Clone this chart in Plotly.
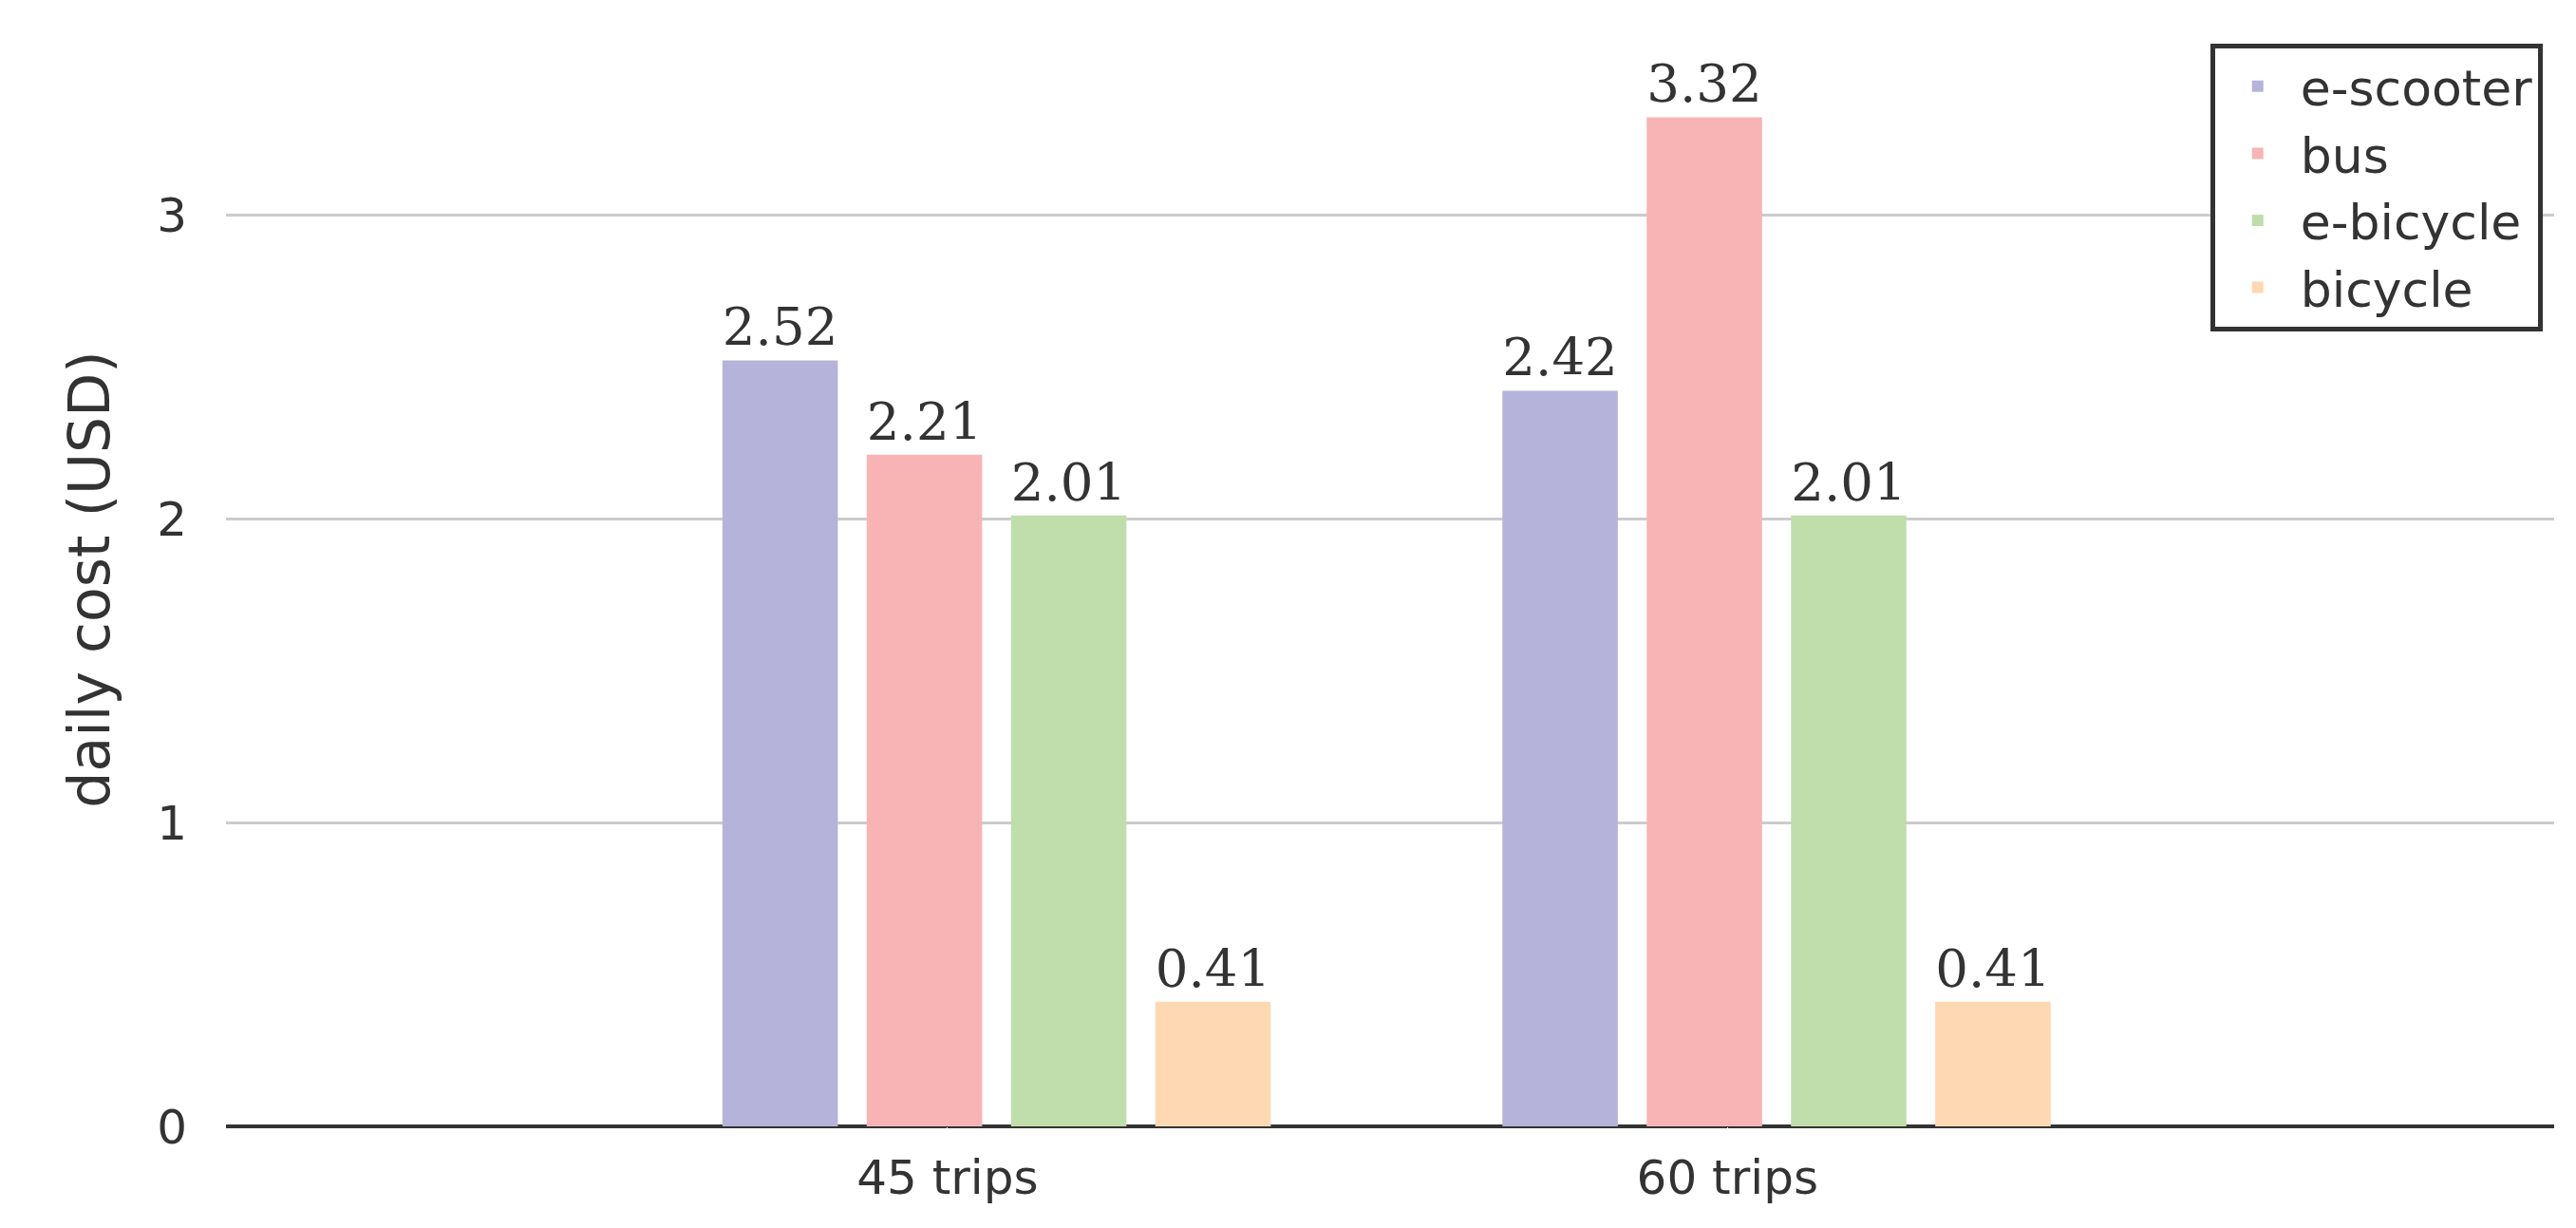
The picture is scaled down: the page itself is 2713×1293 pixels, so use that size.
import plotly.graph_objects as go

categories = ["45 trips", "60 trips"]
series = ["e-scooter", "bus", "e-bicycle", "bicycle"]
values = {
    "e-scooter": [2.52, 2.42],
    "bus": [2.21, 3.32],
    "e-bicycle": [2.01, 2.01],
    "bicycle": [0.41, 0.41],
}
colors = ["#b5b3d9", "#f8b4b5", "#bfdeab", "#fed8b3"]
yticks = [0, 1, 2, 3]

fig = go.Figure()
for s, c in zip(series, colors):
    fig.add_trace(go.Bar(
        x=[0, 1], y=values[s], name=s, marker=dict(color=c, line=dict(width=0)),
        text=[f"{v:.2f}" for v in values[s]], textposition="outside",
        textfont=dict(family="DejaVu Serif", size=70, color="#333333"),
        cliponaxis=False,
    ))

fig.update_layout(
    width=2713, height=1293,
    margin=dict(l=230, r=31, t=26, b=115),
    plot_bgcolor="white", paper_bgcolor="white",
    barmode="group", bargap=0.26, bargroupgap=0.2,
    font=dict(family="DejaVu Sans", size=50, color="#333333"),
    xaxis=dict(tickmode="array", tickvals=[-0.063, 0.937], ticktext=categories,
               range=[-0.988, 1.997], showgrid=False, showline=False,
               tickfont=dict(size=50), ticks="outside", ticklen=10, tickcolor="white"),
    yaxis=dict(range=[0, 3.6], tickvals=yticks, showgrid=True, gridcolor="#cccccc",
               gridwidth=3, zeroline=True, zerolinecolor="#333333", zerolinewidth=4,
               title=dict(text="daily cost (USD)", font=dict(size=60), standoff=30),
               tickfont=dict(size=50), ticks="outside", ticklen=30, tickcolor="white"),
    legend=dict(x=0.995, y=0.99, xanchor="right", yanchor="top",
                bordercolor="#333333", borderwidth=5, bgcolor="white",
                font=dict(size=52), itemwidth=80, tracegroupgap=20),
)
fig.write_html("out.html")
